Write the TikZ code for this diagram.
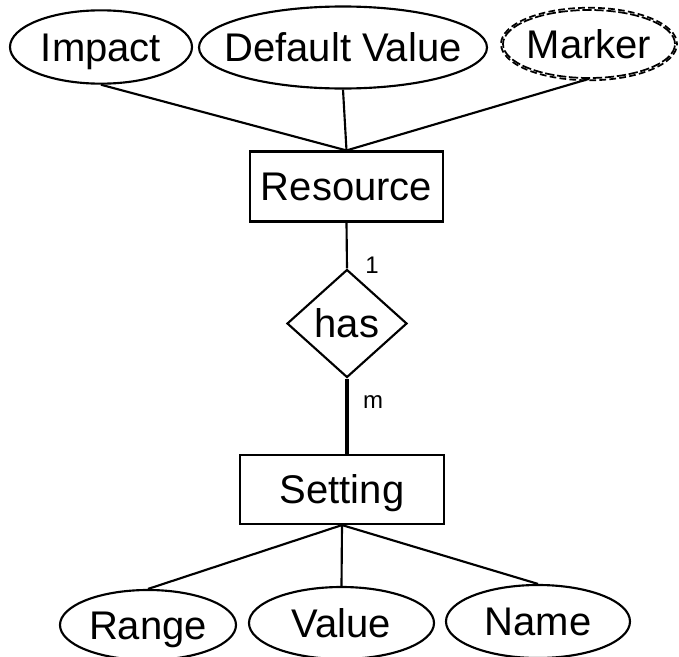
\documentclass[tikz,border=0pt]{standalone}
\usepackage{fontspec}
\setmainfont{Liberation Sans}
\usetikzlibrary{shapes.geometric}
\tikzset{
  base/.style={font=\fontsize{30}{32}\selectfont, line width=1.6pt, inner sep=0pt,
               text height=21.5pt, text depth=0pt},
  attr/.style={base, draw, ellipse},
  entity/.style={base, draw, rectangle},
  rel/.style={base, draw, diamond},
  link/.style={line width=1.6pt},
  heavylink/.style={line width=3.2pt},
  card/.style={font=\fontsize{18}{20}\selectfont, inner sep=0pt, anchor=base},
}
% text of fixed zero width, so that the shape keeps its given size
\newcommand{\lbltext}[1]{\makebox[0pt]{#1}}
\begin{document}
\begin{tikzpicture}[x=0.75pt,y=-0.75pt]
\useasboundingbox (0,0) rectangle (679,657);

% attributes of Resource
\node[attr, minimum width=136.5pt, minimum height=55pt] (imp) at (101,47) {\lbltext{Impact}};
\node[attr, minimum width=216pt, minimum height=61.5pt] (dv) at (343,47.5) {\lbltext{Default Value}};
\node[base, ellipse, draw, line width=1.3pt, dash pattern=on 7pt off 2pt,
      minimum width=129pt, minimum height=51pt] (mk) at (589,44) {\lbltext{Marker}};
\draw[line width=1.3pt, dash pattern=on 5pt off 2.5pt, dash phase=3pt]
  (mk.center) ellipse [x radius=66pt, y radius=27.2pt];

% entities and relationship
\node[entity, minimum width=144.75pt, minimum height=52.5pt] (res) at (346.5,186.5) {Resource};
\node[rel, minimum width=90pt, minimum height=81pt] (has) at (347,323.5) {has};
\node[entity, minimum width=153pt, minimum height=51.75pt] (set) at (342,489.5) {Setting};

% attributes of Setting
\node[attr, minimum width=132pt, minimum height=52.5pt] (rng) at (148,625) {\lbltext{Range}};
\node[attr, minimum width=138.75pt, minimum height=54pt] (val) at (341.5,623) {\lbltext{Value}};
\node[attr, minimum width=138pt, minimum height=54.75pt] (nam) at (538,621.5) {\lbltext{Name}};

% connectors
\draw[link] (imp.south) -- (res.north);
\draw[link] (dv.south) -- (res.north);
\draw[link] (mk.south) -- (res.north);
\draw[link] (res.south) -- (has.north);
\draw[heavylink] (has.south) -- (has.south |- set.north);
\draw[link] (set.south) -- (rng.north);
\draw[link] (set.south) -- (val.north);
\draw[link] (set.south) -- (nam.north);

% cardinalities
\node[card] (c1) at (372,273) {1};
\node[card] (cm) at (373,408) {m};
\end{tikzpicture}
\end{document}
